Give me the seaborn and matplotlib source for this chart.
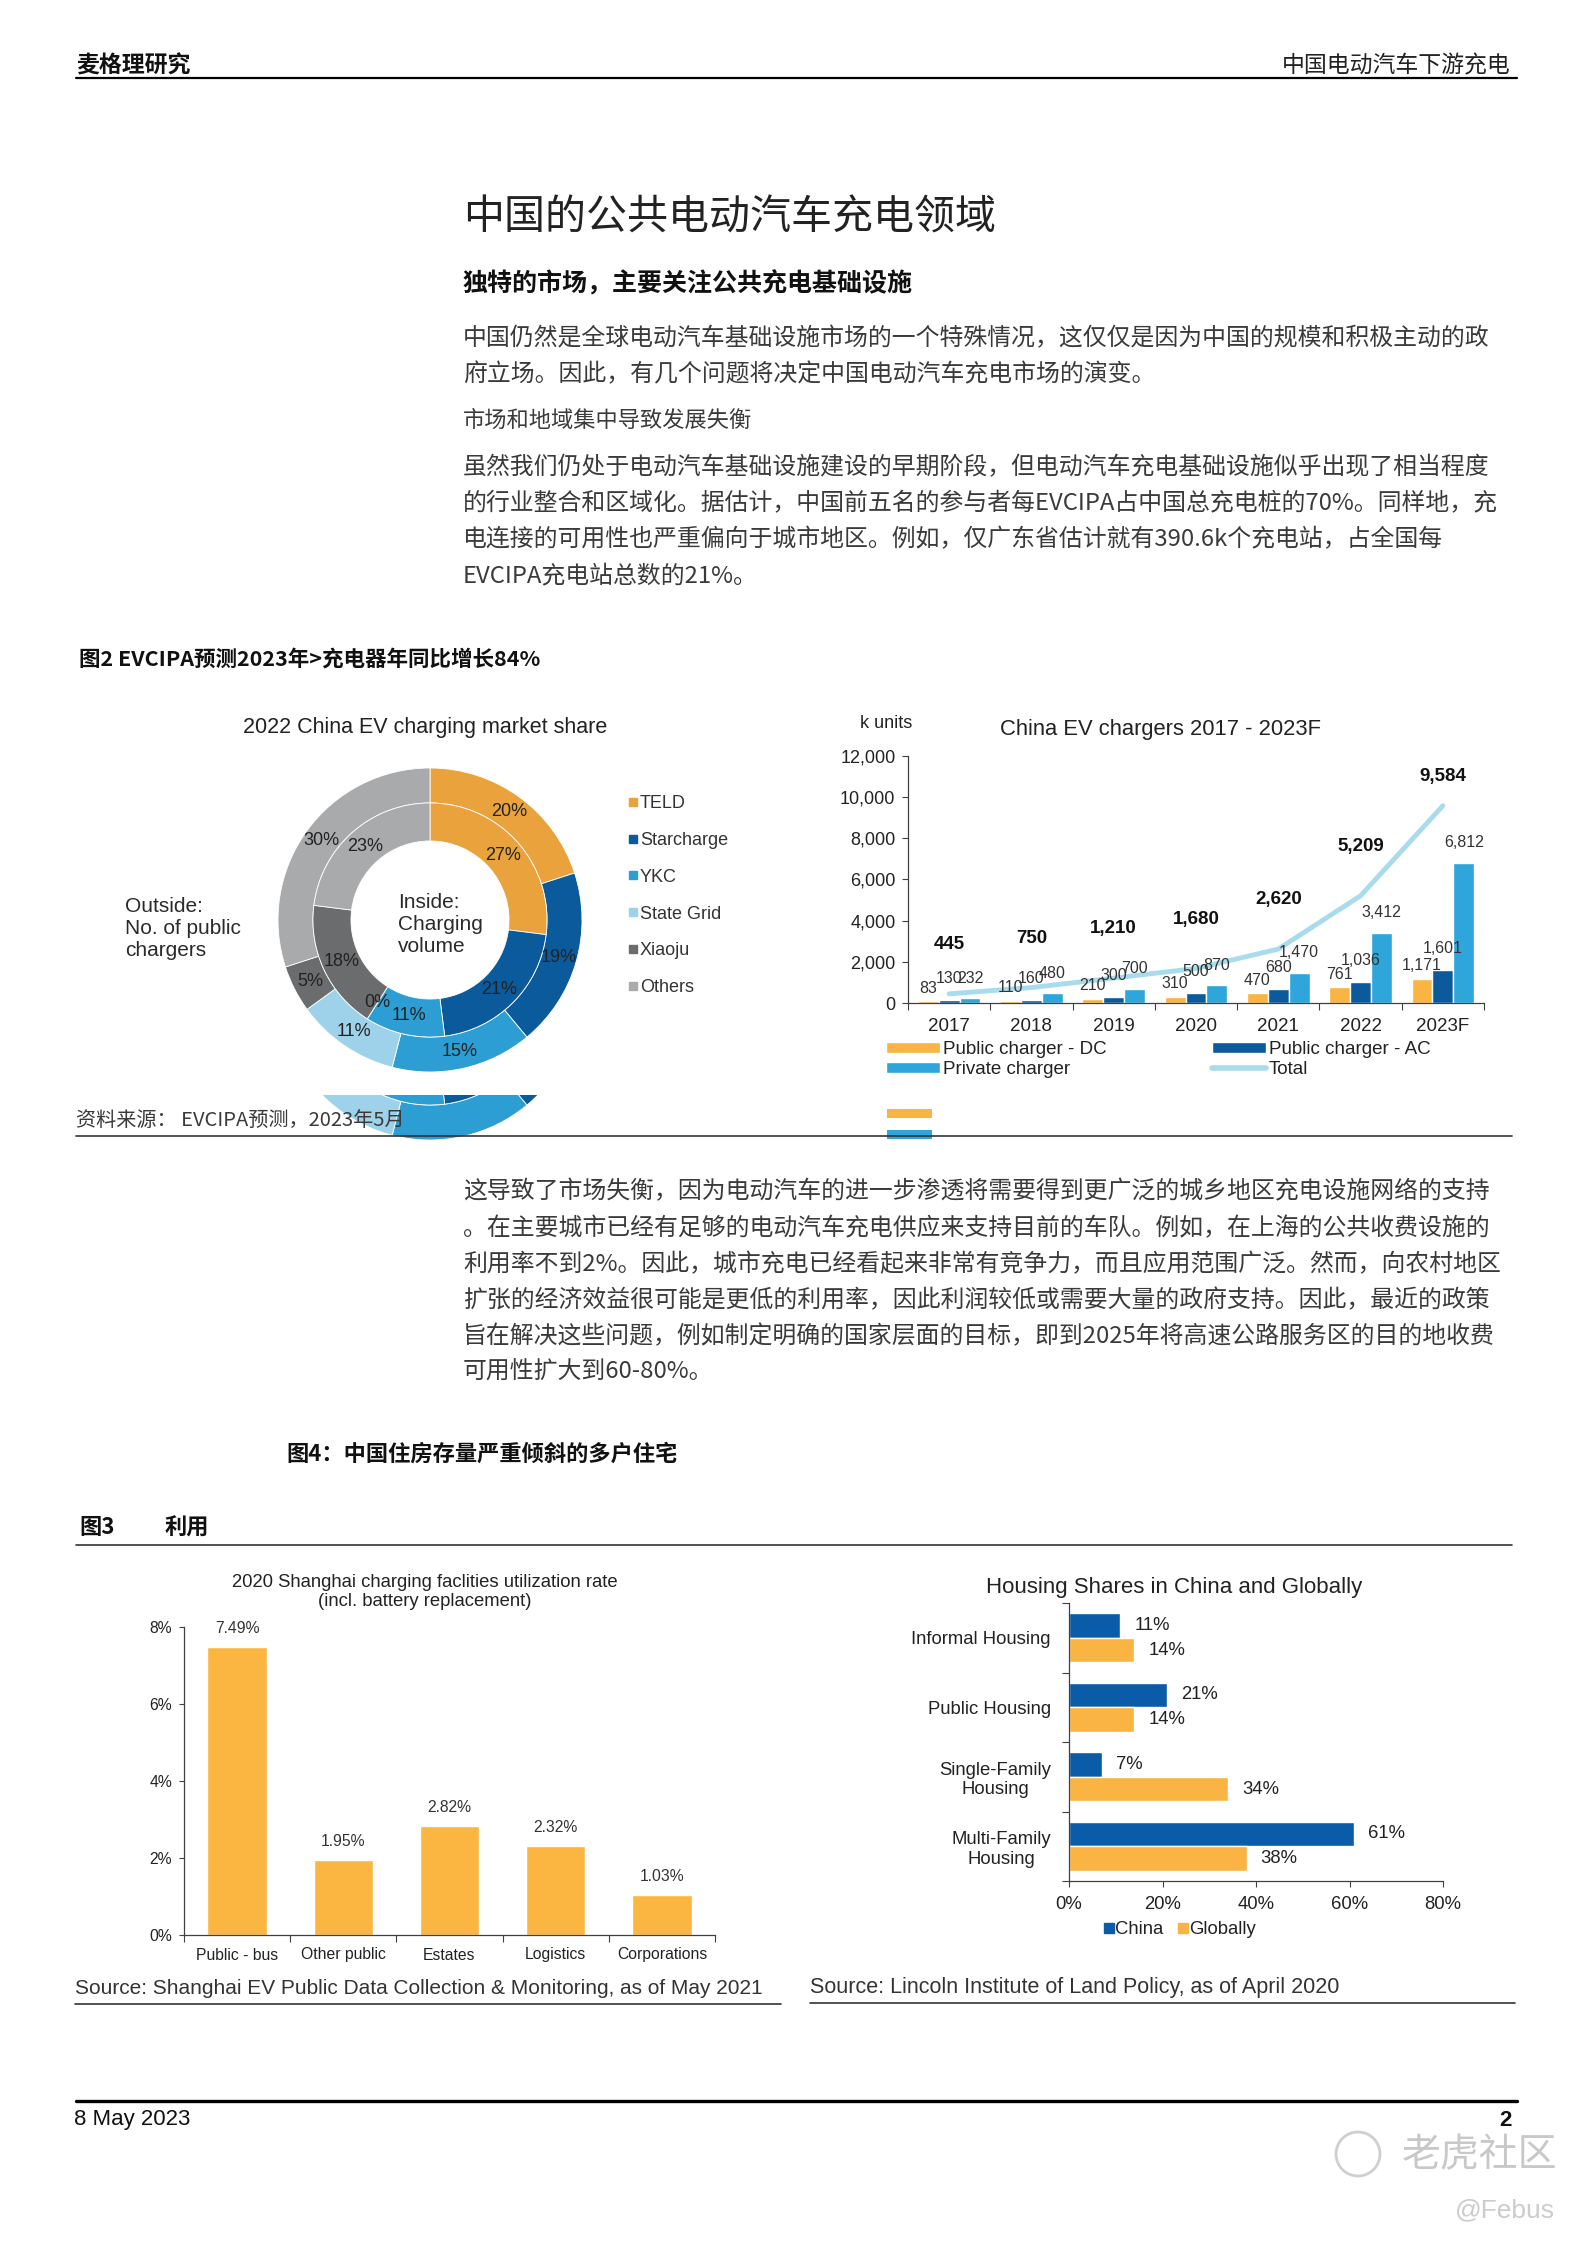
import matplotlib
matplotlib.use('Agg')
import matplotlib.pyplot as plt
import seaborn as sns
import numpy as np
import pandas as pd
from matplotlib.lines import Line2D
from matplotlib.patches import Rectangle, Circle, Patch
from matplotlib.transforms import Bbox, TransformedBbox

sns.set_style('ticks')
plt.rcParams['font.family'] = ['Liberation Sans', 'Noto Sans CJK SC', 'DejaVu Sans']
CJK = ['Noto Sans CJK SC', 'DejaVu Sans']

### DATA ###
share_labels = ['TELD', 'Starcharge', 'YKC', 'State Grid', 'Xiaoju', 'Others']
share_chargers = [20, 19, 15, 11, 5, 30]   # outside ring
share_volume = [27, 21, 11, 0, 18, 23]     # inside ring

years = ['2017', '2018', '2019', '2020', '2021', '2022', '2023F']
public_dc = [83, 110, 210, 310, 470, 761, 1171]
public_ac = [130, 160, 300, 500, 680, 1036, 1601]
private = [232, 480, 700, 870, 1470, 3412, 6812]
total = [445, 750, 1210, 1680, 2620, 5209, 9584]
ev_types = ['Public charger - DC', 'Public charger - AC', 'Private charger']

sh_cats = ['Public - bus', 'Other public', 'Estates', 'Logistics', 'Corporations']
sh_rate = [7.49, 1.95, 2.82, 2.32, 1.03]

housing_cats = ['Informal Housing', 'Public Housing', 'Single-Family\nHousing', 'Multi-Family\nHousing']
housing_china = [11, 21, 7, 61]
housing_global = [14, 14, 34, 38]

### PAGE HELPERS (pixel coords, origin top-left) ###
W, H = 1587, 2245
fig = plt.figure(figsize=(W / 100, H / 100), dpi=100)
fig.patch.set_facecolor('white')


def fx(x):
    return x / W


def fy(y):
    return 1 - y / H


def put(x, y, s, size, cjk=True, **kw):
    kw.setdefault('va', 'center')
    kw.setdefault('color', '#2b2b2b')
    if cjk:
        kw['family'] = CJK
    return fig.text(fx(x), fy(y), s, fontsize=size, **kw)


def hline(x0, x1, y, lw=1.0, color='black'):
    fig.add_artist(Line2D([fx(x0), fx(x1)], [fy(y), fy(y)], transform=fig.transFigure,
                          color=color, lw=lw))


def axbox(x0, y0, x1, y1):
    return fig.add_axes([fx(x0), fy(y1), (x1 - x0) / W, (y1 - y0) / H])


### HEADER / BODY TEXT ###
put(76, 66, '麦格理研究', 16.5, fontweight='bold', color='#111111')
put(1511, 66, '中国电动汽车下游充电', 16.5, ha='right', color='#222222')
hline(76, 1517, 78, lw=1.6)

put(463, 218, '中国的公共电动汽车充电领域', 29.5, color='#222222')
put(463, 284, '独特的市场，主要关注公共充电基础设施', 18, fontweight='bold', color='#111111')

para1 = ['中国仍然是全球电动汽车基础设施市场的一个特殊情况，这仅仅是因为中国的规模和积极主动的政',
         '府立场。因此，有几个问题将决定中国电动汽车充电市场的演变。']
for i, line in enumerate(para1):
    put(463, 339 + i * 36, line, 17.2, color='#3a3a3a')
put(463, 420, '市场和地域集中导致发展失衡', 16, color='#3a3a3a')
para2 = ['虽然我们仍处于电动汽车基础设施建设的早期阶段，但电动汽车充电基础设施似乎出现了相当程度',
         '的行业整合和区域化。据估计，中国前五名的参与者每EVCIPA占中国总充电桩的70%。同样地，充',
         '电连接的可用性也严重偏向于城市地区。例如，仅广东省估计就有390.6k个充电站，占全国每',
         'EVCIPA充电站总数的21%。']
for i, line in enumerate(para2):
    put(463, 468 + i * 36, line, 17.2, color='#3a3a3a')

put(79, 659, '图2 EVCIPA预测2023年>充电器年同比增长84%', 15.5, fontweight='bold', color='#111111')

### DONUT ###
ring_colors = ['#E9A23C', '#0B5A9C', '#2C9ED3', '#9ED2EA', '#6B6C6E', '#A9AAAC']


def draw_donut(ax, with_labels=True):
    outer, _ = ax.pie(share_chargers, radius=1.0, colors=ring_colors, startangle=90,
                      counterclock=False, wedgeprops=dict(width=0.23, edgecolor='white', linewidth=0.6))
    inner, _ = ax.pie(share_volume, radius=0.77, colors=ring_colors, startangle=90,
                      counterclock=False, wedgeprops=dict(width=0.25, edgecolor='white', linewidth=0.6))
    ax.set_xlim(-1, 1)
    ax.set_ylim(-1, 1)
    ax.set_aspect('equal')
    ax.axis('off')
    if with_labels:
        for wedges, vals, r in ((outer, share_chargers, 0.885), (inner, share_volume, 0.645)):
            for w, v in zip(wedges, vals):
                ang = np.deg2rad((w.theta1 + w.theta2) / 2)
                ax.text(r * np.cos(ang), r * np.sin(ang), f'{v}%', ha='center', va='center',
                        fontsize=13, color='#222222')
    return outer + inner


# clipped copy that bleeds below the figure (as in the scanned page)
ax_ghost = axbox(278, 836, 582, 1140)
ghost_clip = TransformedBbox(Bbox([[0, fy(1150)], [1, fy(1095)]]), fig.transFigure)
for p in draw_donut(ax_ghost, with_labels=False):
    p.set_clip_on(True)
    p.set_clip_path(None)
    p.set_clip_box(ghost_clip)

ax_d = axbox(278, 768, 582, 1072)
draw_donut(ax_d)
put(425, 728, '2022 China EV charging market share', 15.5, cjk=False, ha='center', color='#222222')
put(125, 928, 'Outside:\nNo. of public\nchargers', 15, cjk=False, ha='left', linespacing=1.2,
    color='#2b2b2b')
put(398, 925, 'Inside:\nCharging\nvolume', 15, cjk=False, ha='left', linespacing=1.2, color='#2b2b2b')

donut_handles = [Line2D([], [], marker='s', linestyle='', color=c, markersize=6) for c in ring_colors]
ax_d.legend(donut_handles, share_labels, loc='upper left', bbox_to_anchor=(fx(628), fy(795)),
            bbox_transform=fig.transFigure, frameon=False, fontsize=13, handlelength=0.5,
            handletextpad=0.15, labelspacing=1.1, borderpad=0, borderaxespad=0,
            labelcolor='#333333')

### EV CHARGERS BAR CHART ###
ev = pd.DataFrame({
    'year': years * 3,
    'type': [t for t in ev_types for _ in years],
    'value': public_dc + public_ac + private,
})
ev_colors = ['#F9B443', '#0B5A9C', '#2EA6DC']
ax_b = axbox(908, 756, 1484, 1003)
sns.barplot(data=ev, x='year', y='value', hue='type', hue_order=ev_types, palette=ev_colors,
            width=0.76, saturation=1, legend=False, ax=ax_b)
# labels sit a little higher on the AC / private bars, like the original
for cont, pad in zip(ax_b.containers, [4, 10, 9]):
    ax_b.bar_label(cont, fmt='{:,.0f}', padding=pad, fontsize=11.5, color='#333333')
sns.lineplot(x=np.arange(len(years)), y=total, color='#A8DCEC', lw=3.5, ax=ax_b)
for i, t in enumerate(total):
    ax_b.text(i, min(t + 2400, 11000), f'{t:,}', ha='center', va='center', fontsize=13.5,
              fontweight='bold', color='#111111')
ax_b.set_xlim(-0.5, len(years) - 0.5)
ax_b.set_ylim(0, 12000)
ax_b.set_yticks(range(0, 12001, 2000))
ax_b.set_yticklabels([f'{v:,}' for v in range(0, 12001, 2000)])
ax_b.set_xticks(np.arange(-0.5, len(years), 1), minor=True)
ax_b.tick_params(axis='x', which='major', length=0, pad=11, labelsize=13.5, labelcolor='#222222')
ax_b.tick_params(axis='x', which='minor', length=5, width=0.8, direction='out', color='#404040')
ax_b.tick_params(axis='y', length=4, width=0.8, pad=5, labelsize=13, labelcolor='#222222',
                 color='#404040')
ax_b.set_xlabel('')
ax_b.set_ylabel('')
sns.despine(ax=ax_b)
for s in ('left', 'bottom'):
    ax_b.spines[s].set_color('#404040')
    ax_b.spines[s].set_linewidth(0.9)
put(886, 723, 'k units', 13, cjk=False, ha='center', color='#222222')
put(1161, 729, 'China EV chargers 2017 - 2023F', 15.8, cjk=False, ha='center', color='#222222')

leg_handles = [Patch(facecolor=ev_colors[0]), Patch(facecolor=ev_colors[2]),
               Patch(facecolor=ev_colors[1]), Line2D([], [], color='#A8DCEC', lw=4)]
leg_labels = [ev_types[0], ev_types[2], ev_types[1], 'Total']
ax_b.legend(leg_handles, leg_labels, ncol=2, loc='upper left', bbox_to_anchor=(fx(886), fy(1041)),
            bbox_transform=fig.transFigure, frameon=False, fontsize=13.5, handlelength=2.9,
            handleheight=0.5, handletextpad=0.15, columnspacing=5.6, labelspacing=0.15,
            borderpad=0, borderaxespad=0, labelcolor='#222222')
# stray legend swatches visible under the chart in the scan
fig.add_artist(Rectangle((fx(887), fy(1118)), 45 / W, 9 / H, transform=fig.transFigure,
                         facecolor=ev_colors[0], edgecolor='none'))
fig.add_artist(Rectangle((fx(887), fy(1139)), 45 / W, 9 / H, transform=fig.transFigure,
                         facecolor=ev_colors[2], edgecolor='none'))

put(76, 1120, '资料来源： EVCIPA预测，2023年5月', 14.5, color='#3a3a3a')
hline(76, 1512, 1136, lw=1.2, color='#333333')

para3 = ['这导致了市场失衡，因为电动汽车的进一步渗透将需要得到更广泛的城乡地区充电设施网络的支持',
         '。在主要城市已经有足够的电动汽车充电供应来支持目前的车队。例如，在上海的公共收费设施的',
         '利用率不到2%。因此，城市充电已经看起来非常有竞争力，而且应用范围广泛。然而，向农村地区',
         '扩张的经济效益很可能是更低的利用率，因此利润较低或需要大量的政府支持。因此，最近的政策',
         '旨在解决这些问题，例如制定明确的国家层面的目标，即到2025年将高速公路服务区的目的地收费',
         '可用性扩大到60-80%。']
for i, line in enumerate(para3):
    put(463, 1192 + i * 36.1, line, 17.2, color='#3a3a3a')

put(286, 1454, '图4：中国住房存量严重倾斜的多户住宅', 16, fontweight='bold', color='#111111')
put(79, 1528, '图3', 16, fontweight='bold', color='#111111')
put(165, 1528, '利用', 16, fontweight='bold', color='#111111')
hline(76, 1512, 1545, lw=1.2, color='#333333')

### SHANGHAI UTILIZATION ###
ax_s = axbox(184, 1627, 715, 1935)
sns.barplot(x=sh_cats, y=sh_rate, color='#FBB642', width=0.56, saturation=1, ax=ax_s)
ax_s.bar_label(ax_s.containers[0], fmt='{:.2f}%', padding=8, fontsize=11.3, color='#333333')
ax_s.set_ylim(0, 8)
ax_s.set_xlim(-0.5, len(sh_cats) - 0.5)
ax_s.set_yticks(range(0, 9, 2))
ax_s.set_yticklabels([f'{v}%' for v in range(0, 9, 2)])
ax_s.set_xticks(np.arange(-0.5, len(sh_cats), 1), minor=True)
ax_s.tick_params(axis='x', which='major', length=0, pad=9, labelsize=11.3, labelcolor='#222222')
ax_s.tick_params(axis='x', which='minor', length=5, width=0.8, direction='out', color='#404040')
ax_s.tick_params(axis='y', length=3.5, width=0.8, pad=5, labelsize=11.3, labelcolor='#222222',
                 color='#404040')
sns.despine(ax=ax_s)
for s in ('left', 'bottom'):
    ax_s.spines[s].set_color('#404040')
    ax_s.spines[s].set_linewidth(0.9)
put(425, 1592, '2020 Shanghai charging faclities utilization rate\n(incl. battery replacement)', 13.3,
    cjk=False, ha='center', linespacing=1.15, color='#222222')
put(75, 1988, 'Source: Shanghai EV Public Data Collection & Monitoring, as of May 2021', 15,
    cjk=False, ha='left', color='#333333')
hline(75, 781, 2004, lw=1.2, color='#333333')

### HOUSING SHARES ###
housing = pd.DataFrame({
    'cat': housing_cats * 2,
    'region': ['China'] * 4 + ['Globally'] * 4,
    'value': housing_china + housing_global,
})
h_colors = ['#0B5CA8', '#F9B443']
ax_h = axbox(1069, 1603, 1443, 1881)
sns.barplot(data=housing, y='cat', x='value', hue='region', orient='h', palette=h_colors,
            width=0.71, saturation=1, legend=False, ax=ax_h)
for cont in ax_h.containers:
    ax_h.bar_label(cont, fmt='{:.0f}%', padding=10, fontsize=13.3, color='#222222')
ax_h.set_xlim(0, 80)
ax_h.set_ylim(len(housing_cats) - 0.5, -0.5)
ax_h.set_xticks(range(0, 81, 20))
ax_h.set_xticklabels([f'{v}%' for v in range(0, 81, 20)])
ax_h.set_yticks(np.arange(-0.5, len(housing_cats), 1), minor=True)
ax_h.tick_params(axis='y', which='major', length=0, pad=13, labelsize=13.3, labelcolor='#222222')
ax_h.tick_params(axis='y', which='minor', length=5, width=0.8, direction='out', color='#404040')
ax_h.tick_params(axis='x', length=4, width=0.8, pad=7, labelsize=13.3, labelcolor='#222222',
                 color='#404040')
for t in ax_h.get_yticklabels():
    t.set_multialignment('center')
ax_h.set_xlabel('')
ax_h.set_ylabel('')
sns.despine(ax=ax_h)
for s in ('left', 'bottom'):
    ax_h.spines[s].set_color('#404040')
    ax_h.spines[s].set_linewidth(0.9)
h_handles = [Line2D([], [], marker='s', linestyle='', color=c, markersize=7) for c in h_colors]
ax_h.legend(h_handles, ['China', 'Globally'], ncol=2, loc='center', bbox_to_anchor=(fx(1180), fy(1930)),
            bbox_transform=fig.transFigure, frameon=False, fontsize=13.3, handlelength=0.5,
            handletextpad=0.1, columnspacing=0.8, borderpad=0, borderaxespad=0,
            labelcolor='#222222')
put(1174, 1587, 'Housing Shares in China and Globally', 16, cjk=False, ha='center', color='#222222')
put(810, 1987, 'Source: Lincoln Institute of Land Policy, as of April 2020', 15.5, cjk=False,
    ha='left', color='#333333')
hline(810, 1515, 2003, lw=1.2, color='#333333')

### FOOTER ###
hline(76, 1517, 2101, lw=2.4)
put(74, 2120, '8 May 2023', 16, cjk=False, ha='left', color='#111111')
put(1512, 2120, '2', 16, cjk=False, ha='right', fontweight='bold', color='#111111')
fig.add_artist(Circle((1358 / 100, (H - 2154) / 100), 0.22, transform=fig.dpi_scale_trans,
                      fill=False, edgecolor='#cfcfcf', lw=2))
put(1557, 2155, '老虎社区', 28, ha='right', color='#c8c8c8')
put(1555, 2210, '@Febus', 19, cjk=False, ha='right', color='#cccccc')

fig.savefig('out.png', dpi=100, facecolor='white')
